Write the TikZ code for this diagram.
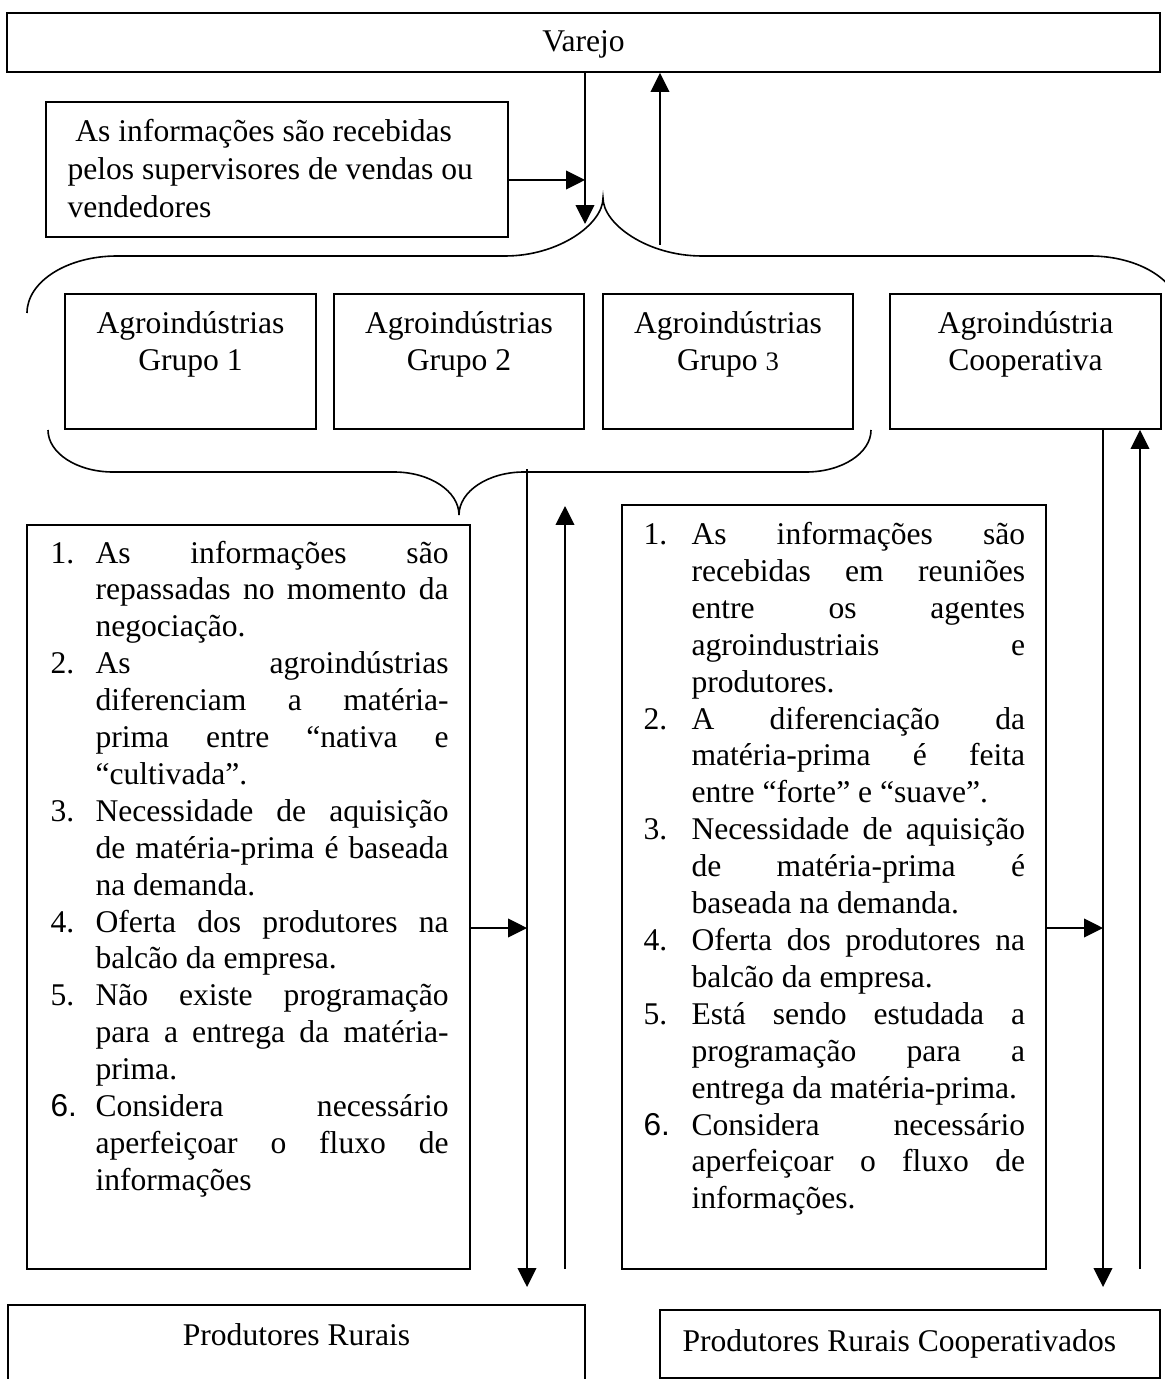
\documentclass[tikz,border=0pt]{standalone}
\usepackage{fontspec}
\setmainfont{Liberation Serif}
\newfontfamily\labelsans{Liberation Sans}
\usetikzlibrary{arrows.meta,fit}

% widths of the item label and of the justified text column
\newlength\labw
\newlength\colw
% first line of an item: label + justified text
\newcommand\firstline[2]{\hbox{\hbox to\labw{#1\hss}\hbox to\colw{#2}}}
% further justified line of an item
\newcommand\midline[1]{\hbox{\hskip\labw\hbox to\colw{#1}}}
% closing line of an item, set ragged
\newcommand\lastline[1]{\hbox{\hskip\labw #1}}
% two centred lines, baseline on the first
\newcommand\twolines[2]{\vtop{\baselineskip=13.84pt
  \hbox to0pt{\hss#1\hss}\hbox to0pt{\hss#2\hss}}}

\begin{document}
\begin{tikzpicture}[x=0.375pt,y=-0.375pt,
  every node/.style={font=\fontsize{11.85}{13.84}\selectfont, inner sep=0pt},
  box/.style={draw, line width=0.7pt, inner sep=0pt},
  link/.style={line width=0.55pt},
  flow/.style={link, -{Triangle[length=7.1pt,width=7pt]}},
  brace/.style={line width=0.6pt}]

\useasboundingbox (0,0) rectangle (1165,1379);
\clip (0,0) rectangle (1165,1379);

% ---------- top level ----------
\node[box, fit={(7,13) (1160,72)}] (varejo) {};
\node[anchor=base] (varejotxt) at (583.5,52) {Varejo};

\node[box, fit={(46,102) (508,237)}] (info) {};
\node[anchor=base west] (infotxt) at (67,142) {\vtop{\baselineskip=14.1pt
  \hbox{\ As informações são recebidas}
  \hbox{pelos supervisores de vendas ou}
  \hbox{vendedores}}};

\coordinate (downtip) at (585,224);
\coordinate (upstart) at (660,245);
\coordinate (infoin) at (585,180);
\draw[flow] (varejo.south -| downtip) -- (downtip);
\draw[flow] (upstart) -- (upstart |- varejo.south);
\draw[flow] (infoin -| info.east) -- (infoin);

% brace gathering the agro-industries
\draw[brace] (27,313) .. controls (27,281.5) and (67.3,256) .. (117,256)
  -- (505,256) .. controls (559,256) and (603,224) .. (603,198)
  .. controls (603,224) and (647.3,256) .. (702,256)
  -- (1090,256) .. controls (1139.7,256) and (1180,281.5) .. (1180,313);

% ---------- agro-industries ----------
\node[box, fit={(65,294) (316,429)}] (g1) {};
\node[box, fit={(334,294) (584,429)}] (g2) {};
\node[box, fit={(603,294) (853,429)}] (g3) {};
\node[box, fit={(890,294) (1161,429)}] (coop) {};
\node[anchor=base] (g1txt) at (190.5,334) {\twolines{Agroindústrias}{Grupo 1}};
\node[anchor=base] (g2txt) at (459,334) {\twolines{Agroindústrias}{Grupo 2}};
\node[anchor=base] (g3txt) at (728,334) {\twolines{Agroindústrias}{Grupo {\fontsize{10}{12}\selectfont 3}}};
\node[anchor=base] (cooptxt) at (1025.5,334) {\twolines{Agroindústria}{Cooperativa}};

% brace under groups 1--3
\draw[brace] (48,430) .. controls (48,453.2) and (77.1,472) .. (113,472)
  -- (394,472) .. controls (429.9,472) and (459,491.3) .. (459,515)
  .. controls (459,491.3) and (488.1,472) .. (524,472)
  -- (806,472) .. controls (841.9,472) and (871,453.2) .. (871,430);

% ---------- left column ----------
\node[box, fit={(27,525) (470,1269)}] (leftlist) {};
\node[anchor=base west] (lefttxt) at (50,563) {\setlength\labw{16.875pt}\setlength\colw{132.4pt}%
\vtop{\baselineskip=13.84pt
  \firstline{1.}{As informações são}
  \midline{repassadas no momento da}
  \lastline{negociação.}
  \firstline{2.}{As agroindústrias}
  \midline{diferenciam a matéria-}
  \midline{prima entre “nativa e}
  \lastline{“cultivada”.}
  \firstline{3.}{Necessidade de aquisição}
  \midline{de matéria-prima é baseada}
  \lastline{na demanda.}
  \firstline{4.}{Oferta dos produtores na}
  \lastline{balcão da empresa.}
  \firstline{5.}{Não existe programação}
  \midline{para a entrega da matéria-}
  \lastline{prima.}
  \firstline{{\labelsans 6.}}{Considera necessário}
  \midline{aperfeiçoar o fluxo de}
  \lastline{informações}}};

\coordinate (ltop) at (527,469);
\coordinate (ltip) at (527,1287);
\coordinate (lupfoot) at (565,1269);
\coordinate (luptip) at (565,506);
\coordinate (lin) at (527,928);
\draw[flow] (ltop) -- (ltip);
\draw[flow] (lupfoot) -- (luptip);
\draw[flow] (lin -| leftlist.east) -- (lin);

% ---------- right column ----------
\node[box, fit={(622,505) (1046,1269)}] (rightlist) {};
\node[anchor=base west] (righttxt) at (643,544.5) {\setlength\labw{18pt}\setlength\colw{125.1pt}%
\vtop{\baselineskip=13.84pt
  \firstline{1.}{As informações são}
  \midline{recebidas em reuniões}
  \midline{entre os agentes}
  \midline{agroindustriais e}
  \lastline{produtores.}
  \firstline{2.}{A diferenciação da}
  \midline{matéria-prima é feita}
  \lastline{entre “forte” e “suave”.}
  \firstline{3.}{Necessidade de aquisição}
  \midline{de matéria-prima é}
  \lastline{baseada na demanda.}
  \firstline{4.}{Oferta dos produtores na}
  \lastline{balcão da empresa.}
  \firstline{5.}{Está sendo estudada a}
  \midline{programação para a}
  \lastline{entrega da matéria-prima.}
  \firstline{{\labelsans 6.}}{Considera necessário}
  \midline{aperfeiçoar o fluxo de}
  \lastline{informações.}}};

\coordinate (rtip) at (1103,1287);
\coordinate (rupfoot) at (1140,1269);
\coordinate (rin) at (1103,928);
\draw[flow] (coop.south -| rtip) -- (rtip);
\draw[flow] (rupfoot) -- (rupfoot |- coop.south);
\draw[flow] (rin -| rightlist.east) -- (rin);

% ---------- producers ----------
\node[box, fit={(8,1305) (585,1400)}] (prod) {};
\node[anchor=base] (prodtxt) at (296.5,1345) {Produtores Rurais};
\node[box, fit={(660,1310) (1160,1378)}] (coopprod) {};
\node[anchor=base west] (coopprodtxt) at (682,1351) {Produtores Rurais Cooperativados};

\end{tikzpicture}
\end{document}
